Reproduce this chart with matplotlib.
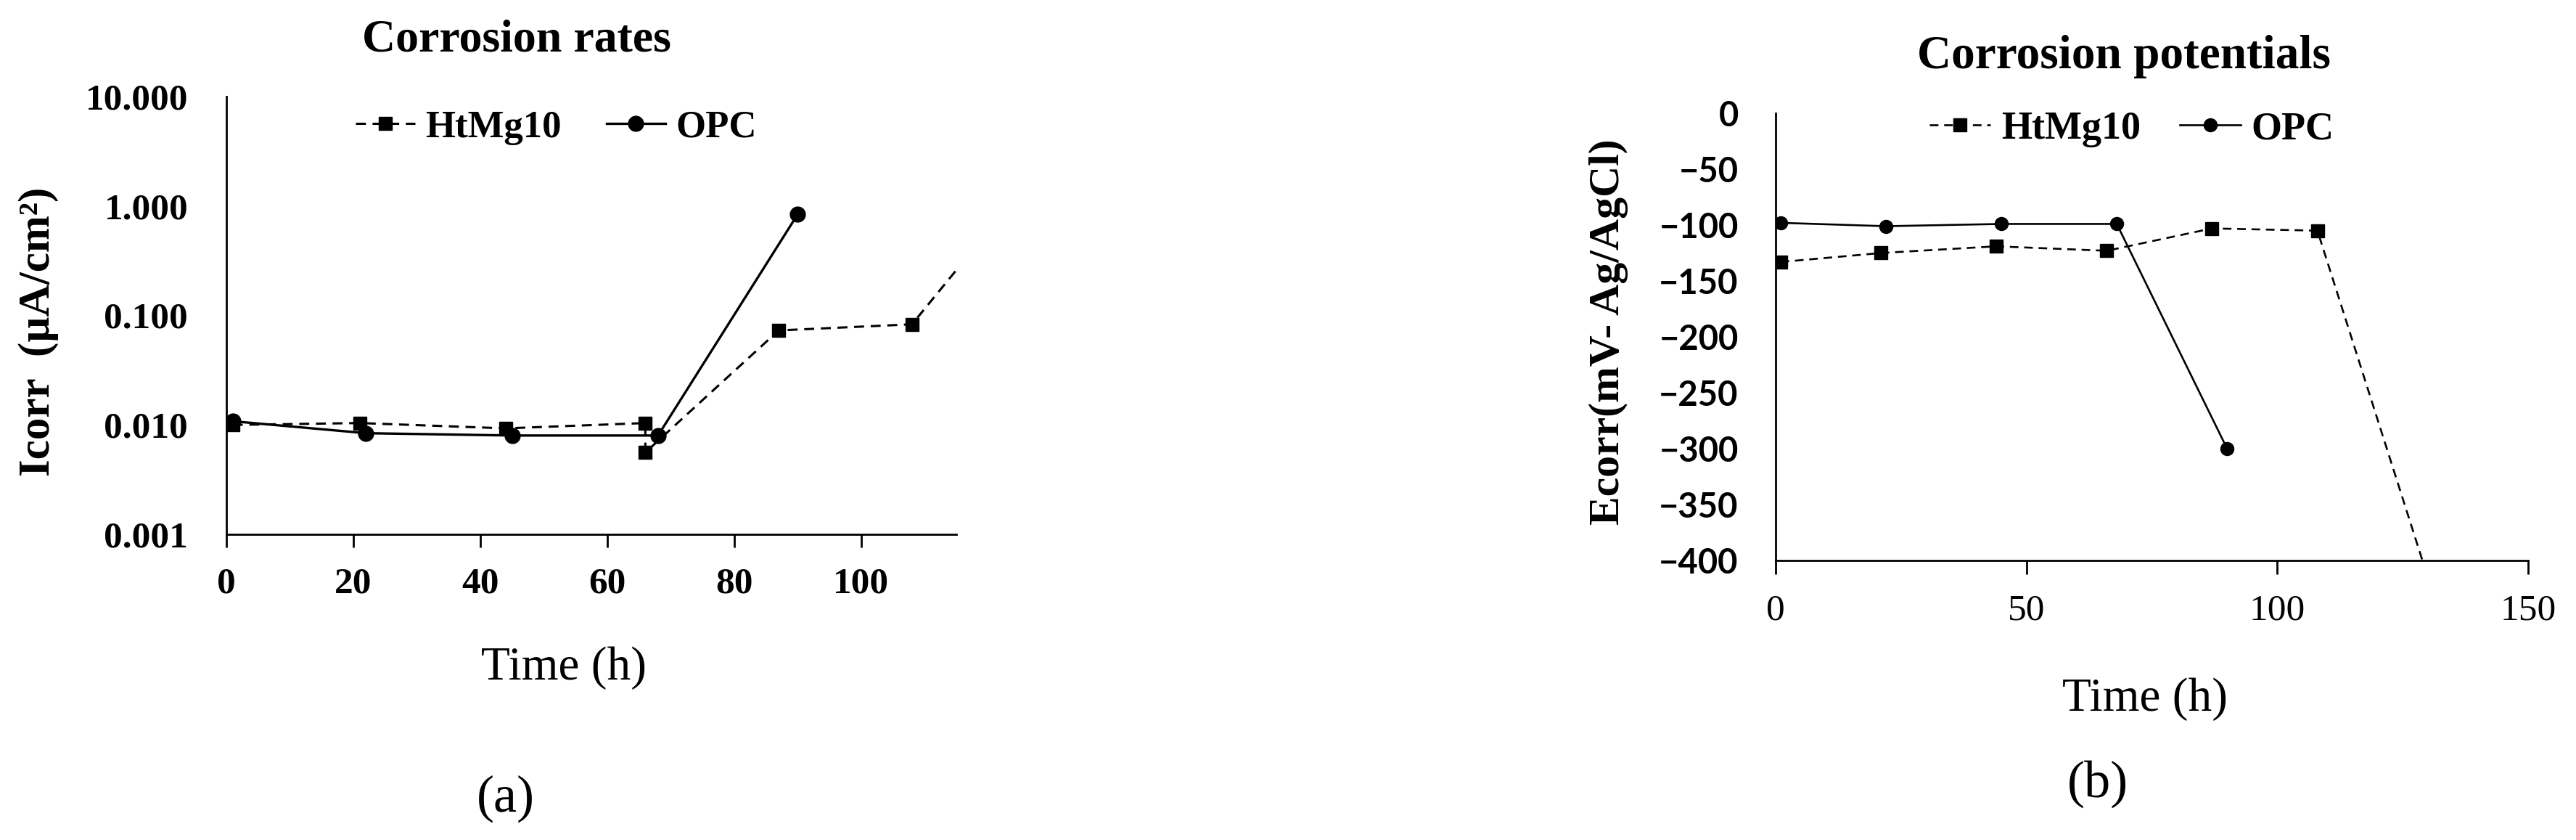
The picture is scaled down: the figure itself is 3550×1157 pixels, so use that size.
import matplotlib.pyplot as plt
from matplotlib.ticker import FixedLocator, FuncFormatter

# (a) corrosion rates, Icorr in uA/cm2
t_htmg_a = [1, 21, 44, 66, 66, 87, 108, 130]
icorr_htmg = [0.0100, 0.0104, 0.0093, 0.0104, 0.0056, 0.073, 0.083, 3.0]
t_opc_a = [1, 22, 45, 68, 90]
icorr_opc = [0.0108, 0.0084, 0.0080, 0.0080, 0.84]

# (b) corrosion potentials, mV vs Ag/AgCl
t_htmg_b = [1, 21, 44, 66, 87, 108, 130]
ecorr_htmg = [-133, -125, -119, -123, -103, -105, -415]
t_opc_b = [1, 22, 45, 68, 90]
ecorr_opc = [-98, -101, -99, -99, -300]

xticks_a = [0, 20, 40, 60, 80, 100]
yticks_a = [0.001, 0.01, 0.1, 1, 10]
xticks_b = [0, 50, 100, 150]
yticks_b = [0, -50, -100, -150, -200, -250, -300, -350, -400]

SERIF = "Liberation Serif"
SANS = "Lato"

fig = plt.figure(figsize=(35.5, 11.57), dpi=100)
ax1 = fig.add_axes([0.08789, 0.36387, 0.28338, 0.52118])
ax2 = fig.add_axes([0.68930, 0.33276, 0.29211, 0.53241])

dash = (0, (4.5, 3))

# ---- panel (a)
ax1.plot(t_htmg_a, icorr_htmg, color="black", linestyle=dash, lw=2.2,
         marker="s", ms=13.5, label="HtMg10")
ax1.plot(t_opc_a, icorr_opc, color="black", linestyle="-", lw=2.4,
         marker="o", ms=15, label="OPC")
ax1.set_yscale("log")
ax1.set_xlim(0, 115)
ax1.set_ylim(0.001, 10)
ax1.xaxis.set_major_locator(FixedLocator(xticks_a))
ax1.yaxis.set_major_locator(FixedLocator(yticks_a))
ax1.yaxis.set_minor_locator(FixedLocator([]))
ax1.yaxis.set_major_formatter(FuncFormatter(lambda v, p: f"{v:.3f}"))
ax1.tick_params(axis="x", length=13, width=2, direction="out", pad=20)
ax1.tick_params(axis="y", length=0, pad=38)
for lab in ax1.get_xticklabels() + ax1.get_yticklabels():
    lab.set_fontfamily(SERIF)
    lab.set_fontweight("bold")
    lab.set_fontsize(37)
ax1.legend(loc="center", bbox_to_anchor=(0.452, 0.929), ncol=2, frameon=False,
           prop={"family": SERIF, "weight": "bold", "size": 38},
           handlelength=1.55, handletextpad=0.27, columnspacing=1.17)

# ---- panel (b)
ax2.plot(t_htmg_b, ecorr_htmg, color="black", linestyle=dash, lw=1.9,
         marker="s", ms=13.5, label="HtMg10")
ax2.plot(t_opc_b, ecorr_opc, color="black", linestyle="-", lw=1.9,
         marker="o", ms=13, label="OPC")
ax2.set_xlim(0, 150)
ax2.set_ylim(-400, 0)
ax2.xaxis.set_major_locator(FixedLocator(xticks_b))
ax2.yaxis.set_major_locator(FixedLocator(yticks_b))
ax2.tick_params(axis="x", length=14, width=2, direction="out", pad=19)
ax2.tick_params(axis="y", length=0, pad=37)
for lab in ax2.get_xticklabels():
    lab.set_fontfamily(SERIF)
    lab.set_fontsize(37)
for lab in ax2.get_yticklabels():
    lab.set_fontfamily(SANS)
    lab.set_fontweight("bold")
    lab.set_fontsize(34)
ax2.legend(loc="center", bbox_to_anchor=(0.4735, 0.964), ncol=2, frameon=False,
           prop={"family": SERIF, "weight": "bold", "size": 39},
           handlelength=1.55, handletextpad=0.27, columnspacing=1.0)

for ax in (ax1, ax2):
    for s in ("top", "right"):
        ax.spines[s].set_visible(False)
    for s in ("left", "bottom"):
        ax.spines[s].set_linewidth(2)
        ax.spines[s].set_color("black")

# titles and labels
fig.text(0.2006, 0.9516, "Corrosion rates", ha="center", va="center",
         family=SERIF, weight="bold", fontsize=46)
fig.text(0.8245, 0.9326, "Corrosion potentials", ha="center", va="center",
         family=SERIF, weight="bold", fontsize=47)
fig.text(0.0149, 0.605, "Icorr  (µA/cm²)", ha="center", va="center", rotation=90,
         family=SERIF, weight="bold", fontsize=44)
fig.text(0.6245, 0.605, "Ecorr(mV- Ag/AgCl)", ha="center", va="center", rotation=90,
         family=SERIF, weight="bold", fontsize=43)
fig.text(0.2189, 0.2048, "Time (h)", ha="center", va="center",
         family=SERIF, fontsize=47)
fig.text(0.8327, 0.1677, "Time (h)", ha="center", va="center",
         family=SERIF, fontsize=47)
fig.text(0.1963, 0.0493, "(a)", ha="center", va="center",
         family=SERIF, fontsize=52)
fig.text(0.8144, 0.0666, "(b)", ha="center", va="center",
         family=SERIF, fontsize=52)

fig.savefig("out.png", dpi=100)
